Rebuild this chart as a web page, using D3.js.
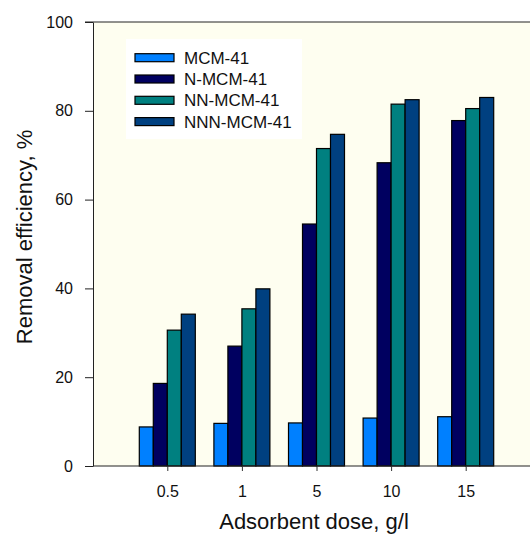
<!DOCTYPE html>
<html>
<head>
<meta charset="utf-8">
<script src="https://cdn.jsdelivr.net/npm/d3@7/dist/d3.min.js"></script>
<style>
  body { margin: 0; background: #fff; }
  text { font-family: Arial, "Liberation Sans", sans-serif; fill: #111; }
</style>
</head>
<body>
<svg width="530" height="535"></svg>
<script>
// data
var doses = ["0.5", "1", "5", "10", "15"];
var seriesNames = ["MCM-41", "N-MCM-41", "NN-MCM-41", "NNN-MCM-41"];
var mcm41 = [8.8, 9.6, 9.7, 10.8, 11.1];
var nMcm41 = [18.6, 27.0, 54.5, 68.3, 77.8];
var nnMcm41 = [30.6, 35.4, 71.5, 81.5, 80.5];
var nnnMcm41 = [34.2, 39.9, 74.7, 82.5, 83.0];
var yTicks = [0, 20, 40, 60, 80, 100];
var colors = ["#0080ff", "#000060", "#008080", "#004080"];

var allSeries = [mcm41, nMcm41, nnMcm41, nnnMcm41];

var svg = d3.select("svg"),
    margin = { top: 22, right: 0, bottom: 69, left: 93 },
    width = +svg.attr("width") - margin.left - margin.right,
    height = +svg.attr("height") - margin.top - margin.bottom,
    g = svg.append("g").attr("transform", "translate(" + margin.left + "," + margin.top + ")");

// category centres about 74.6px apart
var x = d3.scalePoint().domain(doses).range([74.3, 372.7]);
var y = d3.scaleLinear().domain([0, 100]).range([height, 0]);
var barW = 14;
var xs = d3.scaleBand().domain(seriesNames).range([-2 * barW, 2 * barW]).padding(0);

// plot background
g.append("rect")
  .attr("x", 0).attr("y", 0)
  .attr("width", width + 10).attr("height", height)
  .attr("fill", "#fefef0");

// bars
var groups = g.selectAll(".grp")
  .data(doses)
  .enter().append("g")
  .attr("class", "grp")
  .attr("transform", function(d) { return "translate(" + x(d) + ",0)"; });

groups.selectAll("rect")
  .data(function(d, i) {
    return seriesNames.map(function(s, j) { return { s: s, j: j, v: allSeries[j][i] }; });
  })
  .enter().append("rect")
  .attr("x", function(d) { return xs(d.s); })
  .attr("y", function(d) { return y(d.v); })
  .attr("width", xs.bandwidth())
  .attr("height", function(d) { return height - y(d.v); })
  .attr("fill", function(d) { return colors[d.j]; })
  .attr("stroke", "#000")
  .attr("stroke-width", 1.2);

// axes
var yAxis = g.append("g")
  .call(d3.axisLeft(y).tickValues(yTicks).tickSize(8).tickPadding(12).tickSizeOuter(0));
yAxis.select(".domain").attr("stroke", "#222");
yAxis.selectAll("line").attr("stroke", "#222");
yAxis.selectAll("text").style("font-size", "16px").attr("fill", "#111");

var xAxis = g.append("g")
  .attr("transform", "translate(0," + height + ")")
  .call(d3.axisBottom(x).tickSize(5).tickPadding(15).tickSizeOuter(0));
xAxis.select(".domain").attr("d", "M0,0H" + (width + 10)).attr("stroke", "#222");
xAxis.selectAll("line").attr("stroke", "#333");
xAxis.selectAll("text").style("font-size", "16px").attr("fill", "#111");

// top frame line
g.append("line")
  .attr("x1", -8).attr("x2", width + 10)
  .attr("y1", 0).attr("y2", 0)
  .attr("stroke", "#222");

// axis titles
svg.append("text")
  .attr("x", 314).attr("y", 529)
  .attr("text-anchor", "middle")
  .style("font-size", "22px")
  .text("Adsorbent dose, g/l");

svg.append("text")
  .attr("transform", "translate(32,237) rotate(-90)")
  .attr("text-anchor", "middle")
  .style("font-size", "22px")
  .text("Removal efficiency, %");

// legend
var legend = svg.append("g").attr("transform", "translate(126,39)");
legend.append("rect")
  .attr("width", 176).attr("height", 100)
  .attr("fill", "#fff");
var item = legend.selectAll(".item")
  .data(seriesNames)
  .enter().append("g")
  .attr("class", "item")
  .attr("transform", function(d, i) { return "translate(0," + (18.7 + i * 21.3) + ")"; });
item.append("rect")
  .attr("x", 9).attr("y", -4)
  .attr("width", 39).attr("height", 8)
  .attr("fill", function(d, i) { return colors[i]; })
  .attr("stroke", "#000").attr("stroke-width", 1.2);
item.append("text")
  .attr("x", 58).attr("dy", "0.35em")
  .style("font-size", "17px")
  .text(function(d) { return d; });
</script>
</body>
</html>
